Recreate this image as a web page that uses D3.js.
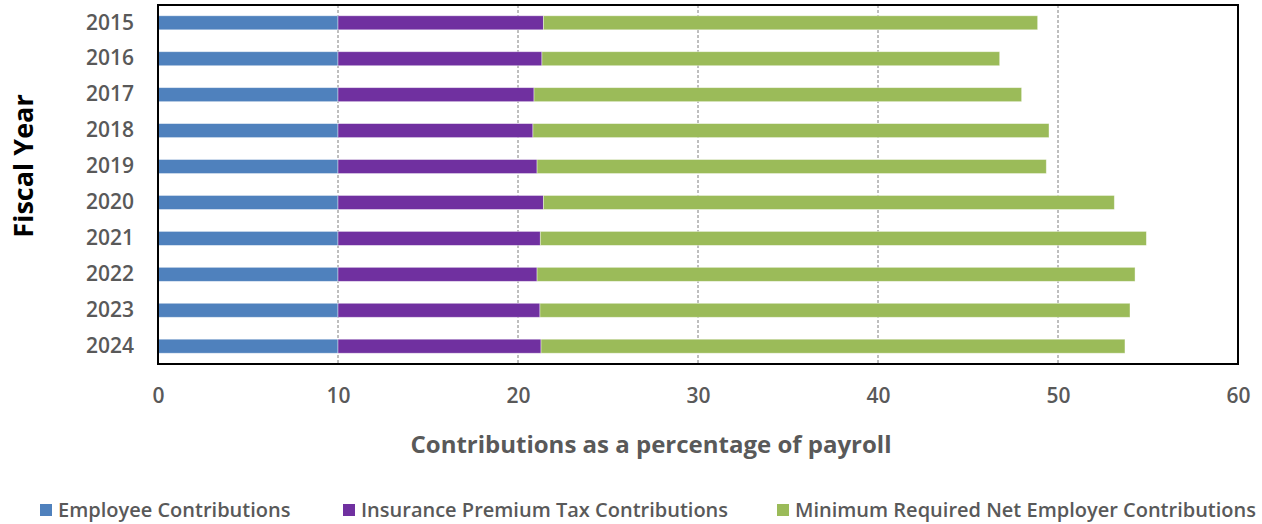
<!DOCTYPE html>
<html>
<head>
<meta charset="utf-8">
<script src="https://cdn.jsdelivr.net/npm/d3@7"></script>
<style>
  body { margin: 0; background: #fff; }
  svg { font-family: "Open Sans", "Noto Sans", sans-serif; }
</style>
</head>
<body>
<svg id="chart" width="1262" height="524"></svg>
<script>
var years = ["2015", "2016", "2017", "2018", "2019", "2020", "2021", "2022", "2023", "2024"];
var employee = [10, 10, 10, 10, 10, 10, 10, 10, 10, 10];
var premiumTax = [11.41, 11.33, 10.89, 10.83, 11.06, 11.41, 11.24, 11.06, 11.22, 11.28];
var netEmployer = [27.46, 25.43, 27.09, 28.67, 28.29, 31.72, 33.67, 33.22, 32.78, 32.44];
var seriesNames = ["Employee Contributions", "Insurance Premium Tax Contributions", "Minimum Required Net Employer Contributions"];
var colors = ["#4f81bd", "#7030a0", "#9bbb59"];
var xTicks = [0, 10, 20, 30, 40, 50, 60];

var svg = d3.select("#chart");
var plotL = 158, plotR = 1238, plotT = 5, plotB = 364;

var rows = years.map(function (y, i) {
    return { year: y, e: employee[i], p: premiumTax[i], n: netEmployer[i] };
});
var stack = d3.stack().keys(["e", "p", "n"])(rows);

var x = d3.scaleLinear().domain([0, 60]).range([plotL, plotR]);
var y = d3.scaleBand().domain(years).range([plotT, plotB]).paddingInner(0.61).paddingOuter(0.3);

// dashed gridlines
svg.append("g")
    .selectAll("line")
    .data(xTicks.filter(function (d) { return d > 0 && d < 60; }))
    .enter()
    .append("line")
    .attr("x1", function (d) { return x(d) })
    .attr("x2", function (d) { return x(d) })
    .attr("y1", plotT)
    .attr("y2", plotB)
    .attr("stroke", "#7f7f7f")
    .attr("stroke-width", 1)
    .attr("stroke-dasharray", "3,2");

// bars
svg.append("g")
    .selectAll("g")
    .data(stack)
    .enter()
    .append("g")
    .attr("fill", function (d, i) { return colors[i] })
    .selectAll("rect")
    .data(function (d) { return d })
    .enter()
    .append("rect")
    .attr("x", function (d) { return x(d[0]) })
    .attr("width", function (d) { return x(d[1]) - x(d[0]) })
    .attr("y", function (d) { return y(d.data.year) })
    .attr("height", y.bandwidth())
    .attr("stroke", "#ffffff")
    .attr("stroke-opacity", 0.5)
    .attr("stroke-width", 0.8);

// frame
svg.append("rect")
    .attr("x", plotL)
    .attr("y", plotT)
    .attr("width", plotR - plotL)
    .attr("height", plotB - plotT)
    .attr("fill", "none")
    .attr("stroke", "#000")
    .attr("stroke-width", 2);

// y axis labels
var yAxis = svg.append("g")
    .attr("transform", "translate(" + (plotL - 24) + ",0)")
    .call(d3.axisLeft(y).tickSize(0).tickPadding(0));
yAxis.select(".domain").remove();
yAxis.selectAll("text")
    .attr("font-size", 21)
    .attr("font-weight", 600)
    .attr("fill", "#595959")
    .attr("font-family", "Open Sans");

// x axis labels
var xAxis = svg.append("g")
    .attr("transform", "translate(0," + (plotB + 24) + ")")
    .call(d3.axisBottom(x).tickValues(xTicks).tickSize(0).tickPadding(0));
xAxis.select(".domain").remove();
xAxis.selectAll("text")
    .attr("font-size", 21)
    .attr("font-weight", 600)
    .attr("fill", "#595959")
    .attr("font-family", "Open Sans");

// axis titles
svg.append("text")
    .attr("x", 651)
    .attr("y", 453)
    .attr("text-anchor", "middle")
    .attr("font-size", 24)
    .attr("font-weight", 700)
    .attr("fill", "#595959")
    .text("Contributions as a percentage of payroll");

svg.append("text")
    .attr("transform", "translate(33,166) rotate(-90)")
    .attr("text-anchor", "middle")
    .attr("font-size", 27)
    .attr("font-weight", 700)
    .attr("fill", "#000")
    .text("Fiscal Year");

// legend
var legendX = [40, 343, 777];
var legend = svg.append("g")
    .selectAll("g")
    .data(seriesNames)
    .enter()
    .append("g")
    .attr("transform", function (d, i) { return "translate(" + legendX[i] + ",510)" });
legend.append("rect")
    .attr("x", 0)
    .attr("y", -6)
    .attr("width", 12)
    .attr("height", 12)
    .attr("fill", function (d, i) { return colors[i] });
legend.append("text")
    .attr("x", 18)
    .attr("y", 0)
    .attr("dy", "0.35em")
    .attr("font-size", 20)
    .attr("font-weight", 600)
    .attr("fill", "#595959")
    .text(function (d) { return d });
</script>
</body>
</html>
